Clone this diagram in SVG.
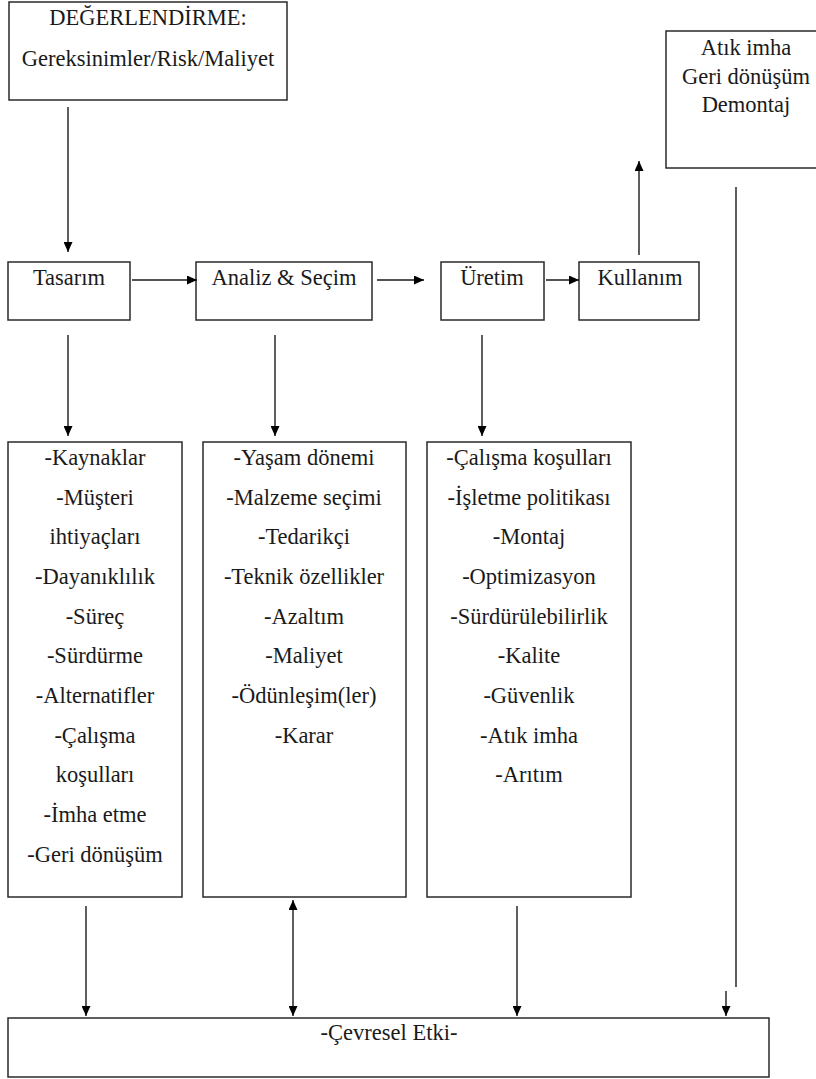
<svg xmlns="http://www.w3.org/2000/svg" width="816" height="1079" viewBox="0 0 816 1079">
  <style>
    .box { fill: #ffffff; stroke: #2a2a2a; stroke-width: 1.5; }
    .lbl { font-family: 'Liberation Serif', serif; font-size: 22.5px; fill: #1a1a1a; text-anchor: middle; }
    .wire { fill: none; stroke: #1a1a1a; stroke-width: 1.4; }
  </style>
  <defs>
    <marker id="head" markerUnits="userSpaceOnUse" markerWidth="10" markerHeight="9" refX="10" refY="4.5" orient="auto-start-reverse">
      <path d="M0,0 L10,4.5 L0,9 Z" fill="#000"/>
    </marker>
  </defs>
  <rect width="816" height="1079" fill="#ffffff"/>

  <g id="degerlendirme" font-family="Liberation Serif, serif">
    <rect class="box" x="9" y="2" width="278" height="98"/>
    <text class="lbl" x="148" y="25">DEĞERLENDİRME:</text>
    <text class="lbl" x="148" y="66">Gereksinimler/Risk/Maliyet</text>
  </g>

  <g id="son-asama">
    <rect class="box" x="666" y="31" width="160" height="137"/>
    <text class="lbl" x="746" y="55">Atık imha</text>
    <text class="lbl" x="746" y="84">Geri dönüşüm</text>
    <text class="lbl" x="746" y="112">Demontaj</text>
  </g>

  <g id="tasarim">
    <rect class="box" x="8" y="262" width="122" height="58"/>
    <text class="lbl" x="69" y="285">Tasarım</text>
  </g>

  <g id="analiz">
    <rect class="box" x="196" y="262" width="176" height="58"/>
    <text class="lbl" x="284" y="285">Analiz &amp; Seçim</text>
  </g>

  <g id="uretim">
    <rect class="box" x="441" y="262" width="103" height="58"/>
    <text class="lbl" x="492" y="285">Üretim</text>
  </g>

  <g id="kullanim">
    <rect class="box" x="579" y="262" width="120" height="58"/>
    <text class="lbl" x="640" y="285">Kullanım</text>
  </g>

  <g id="tasarim-liste">
    <rect class="box" x="8" y="442" width="174" height="455"/>
    <text class="lbl" x="95" y="465">-Kaynaklar</text>
    <text class="lbl" x="95" y="505">-Müşteri</text>
    <text class="lbl" x="95" y="544">ihtiyaçları</text>
    <text class="lbl" x="95" y="584">-Dayanıklılık</text>
    <text class="lbl" x="95" y="624">-Süreç</text>
    <text class="lbl" x="95" y="663">-Sürdürme</text>
    <text class="lbl" x="95" y="703">-Alternatifler</text>
    <text class="lbl" x="95" y="743">-Çalışma</text>
    <text class="lbl" x="95" y="782">koşulları</text>
    <text class="lbl" x="95" y="822">-İmha etme</text>
    <text class="lbl" x="95" y="862">-Geri dönüşüm</text>
  </g>

  <g id="analiz-liste">
    <rect class="box" x="203" y="442" width="203" height="455"/>
    <text class="lbl" x="304" y="465">-Yaşam dönemi</text>
    <text class="lbl" x="304" y="505">-Malzeme seçimi</text>
    <text class="lbl" x="304" y="544">-Tedarikçi</text>
    <text class="lbl" x="304" y="584">-Teknik özellikler</text>
    <text class="lbl" x="304" y="624">-Azaltım</text>
    <text class="lbl" x="304" y="663">-Maliyet</text>
    <text class="lbl" x="304" y="703">-Ödünleşim(ler)</text>
    <text class="lbl" x="304" y="743">-Karar</text>
  </g>

  <g id="uretim-liste">
    <rect class="box" x="427" y="442" width="204" height="455"/>
    <text class="lbl" x="529" y="465">-Çalışma koşulları</text>
    <text class="lbl" x="529" y="505">-İşletme politikası</text>
    <text class="lbl" x="529" y="544">-Montaj</text>
    <text class="lbl" x="529" y="584">-Optimizasyon</text>
    <text class="lbl" x="529" y="624">-Sürdürülebilirlik</text>
    <text class="lbl" x="529" y="663">-Kalite</text>
    <text class="lbl" x="529" y="703">-Güvenlik</text>
    <text class="lbl" x="529" y="743">-Atık imha</text>
    <text class="lbl" x="529" y="782">-Arıtım</text>
  </g>

  <g id="cevresel-etki">
    <rect class="box" x="8" y="1018" width="761" height="59"/>
    <text class="lbl" x="389" y="1040">-Çevresel Etki-</text>
  </g>

  <g id="connectors">
    <line class="wire" x1="68" y1="107" x2="68" y2="252" marker-end="url(#head)"/>
    <line class="wire" x1="132" y1="280" x2="197" y2="280" marker-end="url(#head)"/>
    <line class="wire" x1="377" y1="280" x2="424" y2="280" marker-end="url(#head)"/>
    <line class="wire" x1="546" y1="280" x2="579" y2="280" marker-end="url(#head)"/>
    <line class="wire" x1="639" y1="255" x2="639" y2="161" marker-end="url(#head)"/>
    <line class="wire" x1="68" y1="335" x2="68" y2="436" marker-end="url(#head)"/>
    <line class="wire" x1="275" y1="335" x2="275" y2="436" marker-end="url(#head)"/>
    <line class="wire" x1="482" y1="335" x2="482" y2="436" marker-end="url(#head)"/>
    <line class="wire" x1="86" y1="906" x2="86" y2="1016" marker-end="url(#head)"/>
    <line class="wire" x1="293" y1="900" x2="293" y2="1016" marker-start="url(#head)" marker-end="url(#head)"/>
    <line class="wire" x1="517" y1="906" x2="517" y2="1016" marker-end="url(#head)"/>
    <line class="wire" x1="736" y1="187" x2="736" y2="987"/>
    <line class="wire" x1="726" y1="991" x2="726" y2="1016" marker-end="url(#head)"/>
  </g>
</svg>
